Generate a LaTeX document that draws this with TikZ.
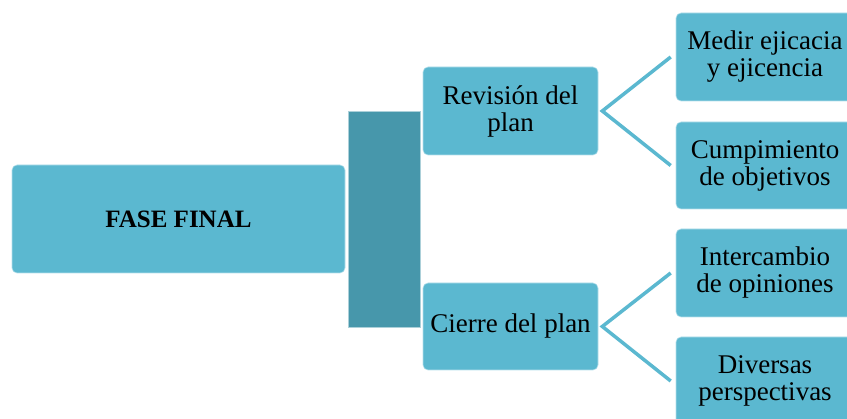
\documentclass[tikz,border=0pt]{standalone}
\usepackage{fontspec}
\setmainfont{Liberation Serif}
\usetikzlibrary{calc}
\definecolor{boxc}{HTML}{5BB8D0}
\definecolor{darkc}{HTML}{4797AB}
\tikzset{
  box/.style={fill=boxc, draw=white!55!boxc, line width=0.6pt, rounded corners=5pt,
    inner sep=0pt, align=center, font=\fontsize{27}{27}\selectfont},
  bar/.style={fill=darkc, draw=white!55!darkc, line width=0.6pt, inner sep=0pt},
  link/.style={draw=boxc, line width=3.5pt}
}
\begin{document}
\begin{tikzpicture}[x=1pt,y=1pt]
\useasboundingbox (0,0) rectangle (847,419);
\node[bar, minimum width=72pt, minimum height=216pt] (bar) at (384,200) {};
\node[box, minimum width=333pt, minimum height=108pt, font=\fontsize{25}{27}\selectfont\bfseries] (fase) at (178.5,200) {FASE FINAL};
\node[box, minimum width=175pt, minimum height=88pt] (rev) at (510.5,308) {Revisión del\\plan};
\node[box, minimum width=175pt, minimum height=87pt] (cie) at (510.5,92.5) {Cierre del plan};
\node[box, minimum width=178pt, minimum height=88pt] (med) at (765,362) {Medir ejicacia\\y ejicencia};
\node[box, minimum width=178pt, minimum height=87pt] (cum) at (765,253.5) {Cumpimiento\\de objetivos};
\node[box, minimum width=178pt, minimum height=88pt] (int) at (765,146) {Intercambio\\de opiniones};
\node[box, minimum width=178pt, minimum height=88pt] (div) at (765,38) {Diversas\\perspectivas};
\coordinate (v1) at ($(rev.east)+(4,0)$);
\coordinate (v2) at ($(cie.east)+(4,0)$);
\draw[link] ($(med.west)+(-5,0)$) -- (v1) -- ($(cum.west)+(-5,0)$);
\draw[link] ($(int.west)+(-5,0)$) -- (v2) -- ($(div.west)+(-5,0)$);
\end{tikzpicture}
\end{document}
